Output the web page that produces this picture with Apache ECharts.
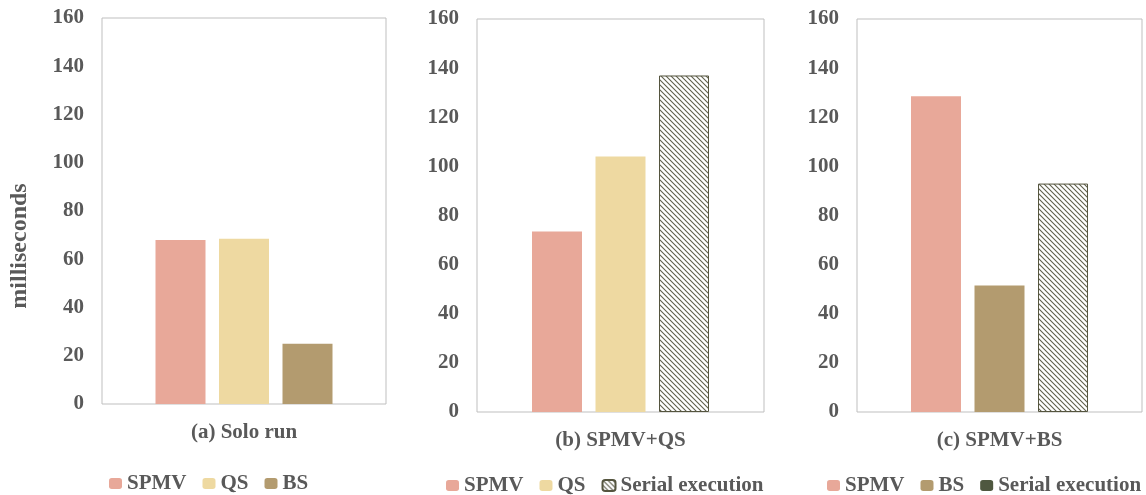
<!DOCTYPE html>
<html>
<head>
<meta charset="utf-8">
<script src="https://cdn.jsdelivr.net/npm/echarts@6/dist/echarts.min.js"></script>
<style>
  html, body { margin: 0; padding: 0; background: #ffffff; }
  #chart { width: 1146px; height: 495px; }
</style>
</head>
<body>
<div id="chart"></div>
<script>
// Execution time per workload (milliseconds)
const panelTitles = ['(a) Solo run', '(b) SPMV+QS', '(c) SPMV+BS'];
const soloNames = ['SPMV', 'QS', 'BS'];
const soloValues = [68, 68.5, 25];
const spmvQsNames = ['SPMV', 'QS', 'Serial execution'];
const spmvQsValues = [73.5, 104, 137];
const spmvBsNames = ['SPMV', 'BS', 'Serial execution'];
const spmvBsValues = [128.5, 51.5, 93];
const yTickMin = 0;
const yTickMax = 160;
const yTickStep = 20;
const yAxisTitle = 'milliseconds';

const panelNames = [soloNames, spmvQsNames, spmvBsNames];
const panelValues = [soloValues, spmvQsValues, spmvBsValues];

// Diagonal hatch fill for the serial-execution bars
function makeHatch() {
  const n = 5;
  const c = document.createElement('canvas');
  c.width = n; c.height = n;
  const ctx = c.getContext('2d');
  ctx.fillStyle = '#ffffff';
  ctx.fillRect(0, 0, n, n);
  ctx.strokeStyle = '#5e5e4a';
  ctx.lineWidth = 1.1;
  for (let k = -1; k <= 1; k++) {
    ctx.beginPath();
    ctx.moveTo(-1, -1 + n * k);
    ctx.lineTo(n + 1, n + 1 + n * k);
    ctx.stroke();
  }
  return c;
}
const hatch = makeHatch();

const fillByName = {
  'SPMV': { color: '#E8A899' },
  'QS': { color: '#EED9A1' },
  'BS': { color: '#B39B6F' },
  'Serial execution': { color: { image: hatch, repeat: 'repeat' }, borderColor: '#55553f', borderWidth: 1 }
};

const font = "'Liberation Serif', 'Times New Roman', serif";
const textColor = '#595959';
const fontSize = 21;

const grids = [
  { left: 102, top: 18, width: 284, height: 386 },
  { left: 477, top: 19, width: 287, height: 393 },
  { left: 857, top: 19, width: 285, height: 393 }
];
const legendPos = [
  { left: 109, top: 473 },
  { left: 446, top: 475 },
  { left: 827, top: 475 }
];

const option = {
  backgroundColor: '#ffffff',
  animation: false,
  grid: grids.map(g => Object.assign({ show: true, borderColor: '#bfbfbf', borderWidth: 1, backgroundColor: 'transparent' }, g)),
  xAxis: panelTitles.map((t, i) => ({
    type: 'category',
    gridIndex: i,
    data: [t],
    axisLine: { show: false },
    axisTick: { show: false },
    axisLabel: { margin: 18, color: textColor, fontFamily: font, fontWeight: 'bold', fontSize: fontSize }
  })),
  yAxis: panelTitles.map((t, i) => ({
    type: 'value',
    gridIndex: i,
    min: yTickMin,
    max: yTickMax,
    interval: yTickStep,
    axisLine: { show: false },
    axisTick: { show: false },
    splitLine: { show: false },
    axisLabel: { margin: 18, color: textColor, fontFamily: font, fontWeight: 'bold', fontSize: fontSize }
  })),
  legend: panelNames.map((names, i) => ({
    left: legendPos[i].left,
    top: legendPos[i].top,
    padding: 0,
    selectedMode: false,
    itemWidth: 13,
    itemHeight: 11,
    itemGap: 16,
    textStyle: { color: textColor, fontFamily: font, fontWeight: 'bold', fontSize: fontSize },
    data: names.map(n => (i === 2 && n === 'Serial execution')
      ? { name: n, itemStyle: { color: '#4f5840', borderWidth: 0 } }
      : n)
  })),
  graphic: [{
    type: 'text',
    x: 20,
    y: 246,
    rotation: Math.PI / 2,
    style: {
      text: yAxisTitle,
      fill: textColor,
      font: 'bold 24px ' + font,
      textAlign: 'center',
      textVerticalAlign: 'middle'
    }
  }],
  series: []
};

panelNames.forEach((names, i) => {
  names.forEach((n, j) => {
    option.series.push({
      type: 'bar',
      name: n,
      xAxisIndex: i,
      yAxisIndex: i,
      barWidth: 50,
      barGap: '27%',
      itemStyle: fillByName[n],
      data: [panelValues[i][j]]
    });
  });
});

const chart = echarts.init(document.getElementById('chart'), null, { renderer: 'canvas' });
chart.setOption(option);
</script>
</body>
</html>
